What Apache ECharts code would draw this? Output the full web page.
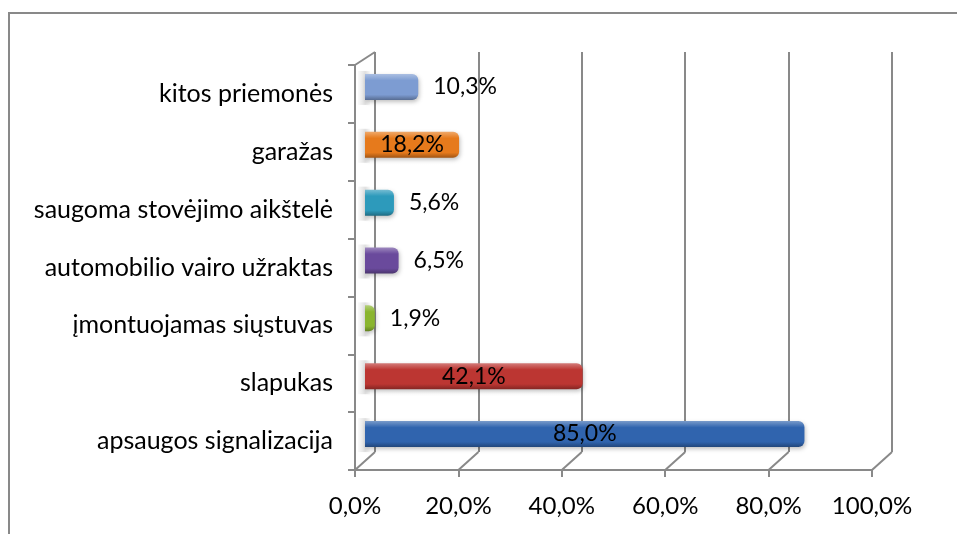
<!DOCTYPE html>
<html lang="lt">
<head>
<meta charset="UTF-8">
<title>Apsaugos priemonės</title>
<script src="https://cdn.jsdelivr.net/npm/echarts@6/dist/echarts.min.js"></script>
<style>
  html, body { margin: 0; padding: 0; background: #fff; }
  #main { width: 957px; height: 534px; }
</style>
</head>
<body>
<div id="main"></div>
<script type="text/javascript">
// kategorijos (nuo apacios i virsu)
var categories = ['apsaugos signalizacija', 'slapukas', 'įmontuojamas siųstuvas',
  'automobilio vairo užraktas', 'saugoma stovėjimo aikštelė', 'garažas', 'kitos priemonės'];
var values = [85.0, 42.1, 1.9, 6.5, 5.6, 18.2, 10.3];
var barColors = ['#3064ae', '#bc3632', '#8ab52f', '#6a4a9c', '#2d9abb', '#e67a1c', '#7d9cd2'];
var insideLabel = [true, true, false, false, false, true, false];
var xTicks = [0, 20, 40, 60, 80, 100];

var FONT = 'Lato, "Open Sans", sans-serif';
var GRAY = '#898989';

// 3D remelio geometrija
var frontLeft = 355, frontBottom = 470, depthX = 20, depthY = 18, axisW = 517;

function pct(v) { return v.toFixed(1).replace('.', ',') + '%'; }

function shade(hex, f) {
  var n = parseInt(hex.slice(1), 16);
  var r = n >> 16, g = (n >> 8) & 255, b = n & 255;
  function c(x) { return Math.max(0, Math.min(255, Math.round(f > 0 ? x + (255 - x) * f : x * (1 + f)))); }
  return 'rgb(' + c(r) + ',' + c(g) + ',' + c(b) + ')';
}

var barData = values.map(function (v, i) {
  var col = barColors[i];
  return {
    value: v,
    itemStyle: {
      color: new echarts.graphic.LinearGradient(0, 0, 0, 1, [
        { offset: 0, color: shade(col, 0.35) },
        { offset: 0.25, color: col },
        { offset: 0.8, color: col },
        { offset: 1, color: shade(col, -0.3) }
      ]),
      borderRadius: [0, 6, 6, 0],
      shadowColor: 'rgba(0,0,0,0.25)',
      shadowBlur: 4,
      shadowOffsetX: 1,
      shadowOffsetY: 2
    },
    label: insideLabel[i] ? { position: 'inside' } : { position: 'right', distance: 15 }
  };
});

// istrizos linijos tarp priekines asies ir galines sienos
var graphics = [
  { type: 'rect', shape: { x: 9, y: 13, width: 1100, height: 700 },
    style: { fill: 'none', stroke: GRAY, lineWidth: 2 }, silent: true },
  { type: 'line', shape: { x1: frontLeft, y1: 65, x2: frontLeft + depthX, y2: 65 - 13 },
    style: { stroke: GRAY, lineWidth: 2 } }
];
xTicks.forEach(function (t) {
  var x = frontLeft + axisW * t / 100;
  graphics.push({ type: 'line',
    shape: { x1: x, y1: frontBottom, x2: x + depthX, y2: frontBottom - depthY },
    style: { stroke: GRAY, lineWidth: 2 } });
});
// seseliai ant kaires sienos
values.forEach(function (v, i) {
  var yc = 58 + 405 * (6 - i + 0.5) / 7;
  graphics.push({ type: 'rect', z: -1,
    shape: { x: frontLeft + 3, y: yc - 16, width: 12, height: 34 },
    style: { fill: new echarts.graphic.LinearGradient(0, 0, 1, 0, [
      { offset: 0, color: 'rgba(0,0,0,0.02)' },
      { offset: 0.6, color: 'rgba(0,0,0,0.12)' },
      { offset: 1, color: 'rgba(0,0,0,0.02)' }]) } });
});

var chart = echarts.init(document.getElementById('main'));
chart.setOption({
  backgroundColor: '#fff',
  animation: false,
  textStyle: { fontFamily: FONT },
  grid: [
    // stulpeliai (vidurine plokstuma)
    { left: 365, top: 58, width: axisW, height: 405 },
    // galine siena
    { left: frontLeft + depthX, top: 52, width: axisW, height: 400 },
    // priekine asis
    { left: frontLeft, top: 65, width: axisW, height: 405 }
  ],
  xAxis: [
    { gridIndex: 0, type: 'value', min: 0, max: 100, interval: 20, show: false },
    { gridIndex: 1, type: 'value', min: 0, max: 100, interval: 20,
      axisLine: { show: false }, axisTick: { show: false }, axisLabel: { show: false },
      splitLine: { show: true, lineStyle: { color: GRAY, width: 2 } } },
    { gridIndex: 2, type: 'value', min: 0, max: 100, interval: 20,
      splitLine: { show: false },
      axisLine: { show: true, lineStyle: { color: GRAY, width: 2 } },
      axisTick: { show: true, length: 7, lineStyle: { color: GRAY, width: 2 } },
      axisLabel: { color: '#000', fontSize: 24, fontFamily: FONT, margin: 24,
        formatter: function (v) { return pct(v); } } }
  ],
  yAxis: [
    { gridIndex: 0, type: 'category', data: categories, show: false },
    { gridIndex: 1, type: 'category', data: categories, show: false },
    { gridIndex: 2, type: 'category', data: categories,
      axisLine: { show: true, lineStyle: { color: GRAY, width: 2 } },
      axisTick: { show: true, length: 7, lineStyle: { color: GRAY, width: 2 } },
      axisLabel: { color: '#000', fontSize: 25, fontFamily: FONT, margin: 22 } }
  ],
  graphic: graphics,
  series: [{
    type: 'bar',
    xAxisIndex: 0,
    yAxisIndex: 0,
    barWidth: 26,
    data: barData,
    label: { show: true, color: '#000', fontSize: 23, fontFamily: FONT,
      formatter: function (p) { return pct(p.value); } }
  }]
});
</script>
</body>
</html>
